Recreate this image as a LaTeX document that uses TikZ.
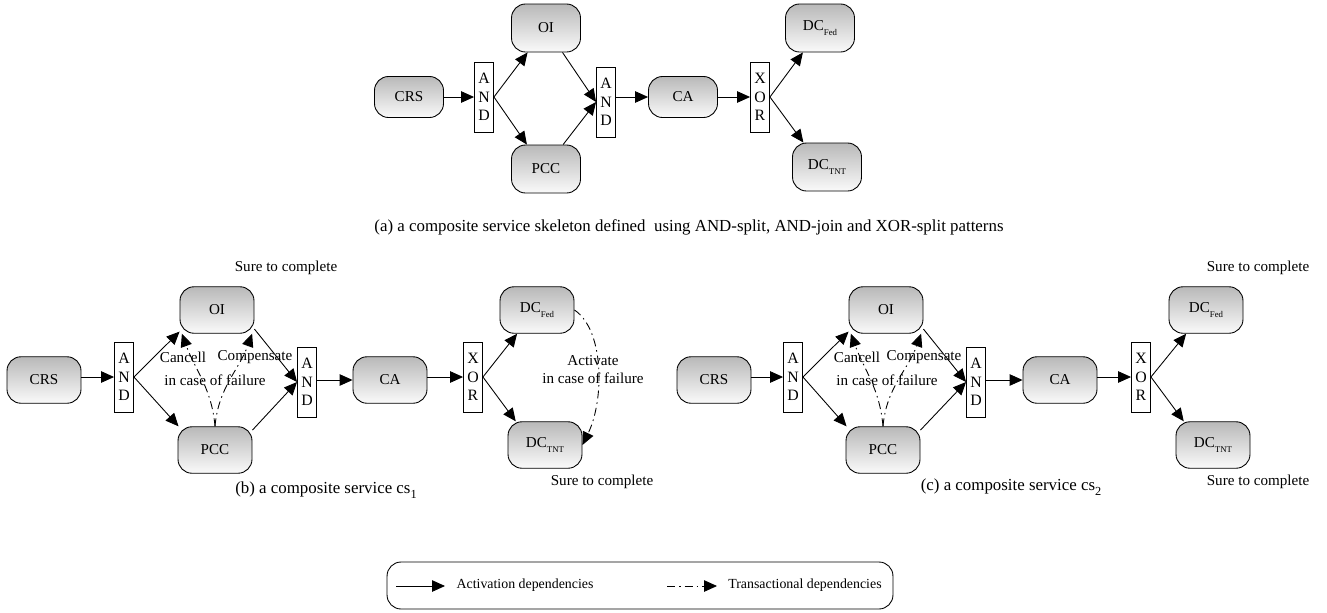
\documentclass[tikz,border=0pt]{standalone}
\usepackage{fontspec}
\setmainfont{Liberation Serif}
\usetikzlibrary{arrows.meta}
\newcommand{\lowsub}[1]{\raisebox{-0.7ex}{\tiny #1}}

\begin{document}
\begin{tikzpicture}[
    x=0.02cm, y=-0.02cm, line width=0.5pt,
    every node/.style={font=\fontsize{8.6}{10.2}\selectfont},
    svc/.style={draw, rounded corners=0.28cm, top color=gray!55, bottom color=gray!4, minimum width=1.48cm, minimum height=0.93cm, inner sep=1pt},
    topsvc/.style={svc, minimum width=1.38cm, minimum height=0.82cm},
    tallsvc/.style={svc, minimum width=1.38cm, minimum height=0.96cm},
    gate/.style={draw, fill=white, minimum width=0.38cm, minimum height=1.4cm, inner sep=0pt, align=center, font=\fontsize{9}{10.6}\selectfont},
    act/.style={-{Triangle[length=0.26cm, width=0.23cm]}},
    trans/.style={act, dash pattern=on 0.16cm off 0.08cm on 0.03cm off 0.08cm},
    lbl/.style={align=center, inner sep=1pt},
    caption/.style={lbl, font=\fontsize{9.6}{11}\selectfont}
]
    \useasboundingbox (0,0) rectangle (1327,612);

    % (a) skeleton
    \node[topsvc] (aCRS) at (409,97) {CRS};
    \node[gate] (aAND1) at (484,97) {A\\N\\D};
    \node[tallsvc] (aOI) at (546,28) {OI};
    \node[tallsvc] (aPCC) at (546,169) {PCC};
    \node[gate] (aAND2) at (606,102) {A\\N\\D};
    \node[topsvc] (aCA) at (683,97) {CA};
    \node[gate] (aXOR) at (760,97) {X\\O\\R};
    \node[tallsvc] (aFed) at (820,28) {DC\lowsub{Fed}};
    \node[tallsvc] (aTNT) at (827,167) {DC\lowsub{TNT}};
    \node[caption] (aCap) at (689,227) {(a) a composite service skeleton defined\ \ using AND-split, AND-join and XOR-split patterns};

    \draw[act] (aCRS) -- (aAND1);
    \draw[act] (aAND1.east) -- (aOI.-127);
    \draw[act] (aAND1.east) -- (aPCC.128);
    \draw[act] (aOI.-56) -- (aAND2.west);
    \draw[act] (aPCC.55) -- (aAND2.west);
    \draw[act] (aCA.west -| aAND2.east) -- (aCA.west);
    \draw[act] (aCA) -- (aXOR);
    \draw[act] (aXOR.east) -- (aFed.-125);
    \draw[act] (aXOR.east) -- (aTNT.134);

    % (b) composite service cs1
    \node[svc] (bCRS) at (44,380) {CRS};
    \node[gate] (bAND1) at (124,377) {A\\N\\D};
    \node[svc] (bOI) at (217,310) {OI};
    \node[svc] (bPCC) at (215,450) {PCC};
    \node[gate] (bAND2) at (307,382) {A\\N\\D};
    \node[svc] (bCA) at (390,380) {CA};
    \node[gate] (bXOR) at (473,377) {X\\O\\R};
    \node[svc] (bFed) at (537,310) {DC\lowsub{Fed}};
    \node[svc] (bTNT) at (545,445) {DC\lowsub{TNT}};
    \node[lbl] (bSure1) at (286,268) {Sure to complete};
    \node[lbl] (bCancel) at (183,357) {Cancell};
    \node[lbl] (bComp) at (255,357) {Compensate};
    \node[lbl] (bFail) at (215,380) {in case of failure};
    \node[lbl] (bAct) at (593,370) {Activate\\in case of failure};
    \node[lbl] (bSure2) at (602,482) {Sure to complete};
    \node[caption] (bCap) at (326,490) {(b) a composite service cs\lowsub{\scriptsize 1}};

    \draw[act] (bCRS.east |- bAND1.west) -- (bAND1.west);
    \draw[act] (bAND1.east) -- (bOI.210);
    \draw[act] (bAND1.east) -- (bPCC.147);
    \draw[act] (bOI.-27) -- (bAND2.west);
    \draw[act] (bPCC.28) -- (bAND2.west);
    \draw[act] (bAND2.east |- bCA.west) -- (bCA.west);
    \draw[act] (bCA.east |- bXOR.west) -- (bXOR.west);
    \draw[act] (bXOR.east) -- (bFed.-130);
    \draw[act] (bXOR.east) -- (bTNT.141);
    \draw[trans] (bPCC.north) to[out=95, in=-70] (bOI.-146);
    \draw[trans] (bPCC.north) to[out=85, in=-110] (bOI.-34);
    \draw[trans] (bFed.east) .. controls +(30,20) and +(22,-45) .. (bTNT.east);

    % (c) composite service cs2
    \node[svc] (cCRS) at (714,380) {CRS};
    \node[gate] (cAND1) at (793,377) {A\\N\\D};
    \node[svc] (cOI) at (886,310) {OI};
    \node[svc] (cPCC) at (883,450) {PCC};
    \node[gate] (cAND2) at (976,382) {A\\N\\D};
    \node[svc] (cCA) at (1060,380) {CA};
    \node[gate] (cXOR) at (1141,377) {X\\O\\R};
    \node[svc] (cFed) at (1206,310) {DC\lowsub{Fed}};
    \node[svc] (cTNT) at (1213,445) {DC\lowsub{TNT}};
    \node[lbl] (cCancel) at (857,357) {Cancell};
    \node[lbl] (cComp) at (924,357) {Compensate};
    \node[lbl] (cFail) at (887,380) {in case of failure};
    \node[lbl] (cSure1) at (1258,268) {Sure to complete};
    \node[lbl] (cSure2) at (1258,482) {Sure to complete};
    \node[caption] (cCap) at (1011,487) {(c) a composite service cs\lowsub{\scriptsize 2}};

    \draw[act] (cCRS.east |- cAND1.west) -- (cAND1.west);
    \draw[act] (cAND1.east) -- (cOI.210);
    \draw[act] (cAND1.east) -- (cPCC.147);
    \draw[act] (cOI.-27) -- (cAND2.west);
    \draw[act] (cPCC.28) -- (cAND2.west);
    \draw[act] (cAND2.east |- cCA.west) -- (cCA.west);
    \draw[act] (cCA.east |- cXOR.west) -- (cXOR.west);
    \draw[act] (cXOR.east) -- (cFed.-130);
    \draw[act] (cXOR.east) -- (cTNT.141);
    \draw[trans] (cPCC.north) to[out=95, in=-70] (cOI.-146);
    \draw[trans] (cPCC.north) to[out=85, in=-110] (cOI.-34);

    % legend
    \node[draw, rounded corners=0.28cm, minimum width=10.12cm, minimum height=0.94cm] (legend) at (640,585.5) {};
    \coordinate (actA) at (396,586);
    \coordinate (actB) at (445,586);
    \coordinate (trA) at (667,586);
    \coordinate (trB) at (717,586);
    \draw[act] (actA) -- (actB);
    \draw[trans] (trA) -- (trB);
    \node[lbl, font=\fontsize{7.9}{9}\selectfont] (actTxt) at (525,585) {Activation dependencies};
    \node[lbl, font=\fontsize{7.9}{9}\selectfont] (trTxt) at (805,585) {Transactional dependencies};
\end{tikzpicture}
\end{document}
